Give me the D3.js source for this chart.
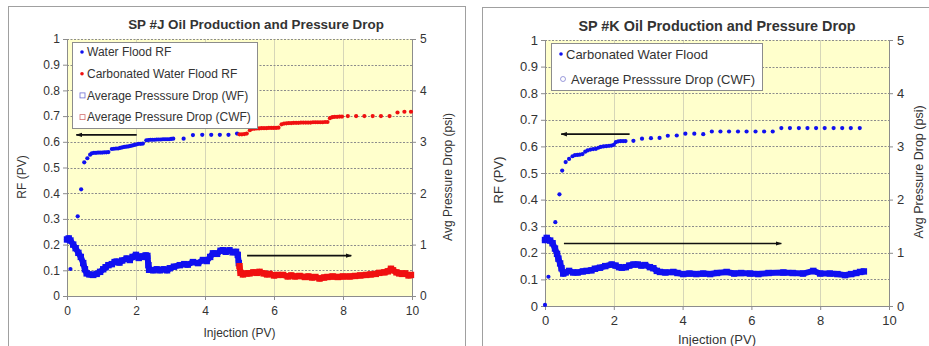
<!DOCTYPE html>
<html>
<head>
<meta charset="utf-8">
<script src="https://cdn.jsdelivr.net/npm/d3@7"></script>
<style>
  body { margin: 0; background: #fff; }
  text { font-family: "Liberation Sans", Arial, sans-serif; fill: #333; }
</style>
</head>
<body>
<svg id="chart" width="929" height="346"></svg>
<script>
// ---- data ----
var xTicks = [0, 2, 4, 6, 8, 10];
var rfTicks = [0, 0.1, 0.2, 0.3, 0.4, 0.5, 0.6, 0.7, 0.8, 0.9, 1];
var psiTicks = [0, 1, 2, 3, 4, 5];

// SP #J : [injection PV, RF]
var jWaterFloodRF = [[0.1,0.105],[0.31,0.31],[0.41,0.415],[0.5,0.52],[0.59,0.536],[0.67,0.55],[0.72,0.555],[0.78,0.557],[0.84,0.557],[0.9,0.558],[0.96,0.558],[1.02,0.558],[1.08,0.559],[1.14,0.559],[1.2,0.56],[1.3,0.572],[1.36,0.573],[1.42,0.574],[1.48,0.574],[1.54,0.576],[1.6,0.578],[1.66,0.58],[1.72,0.581],[1.78,0.582],[1.84,0.584],[1.9,0.586],[1.96,0.588],[2.02,0.59],[2.08,0.592],[2.14,0.592],[2.2,0.593],[2.3,0.606],[2.36,0.607],[2.42,0.608],[2.48,0.608],[2.54,0.608],[2.6,0.609],[2.66,0.609],[2.72,0.609],[2.78,0.61],[2.84,0.61],[2.9,0.61],[2.96,0.61],[3.02,0.611],[3.08,0.612],[3.38,0.612],[3.65,0.626],[3.92,0.627],[4.18,0.627],[4.43,0.627],[4.68,0.627],[4.93,0.632]];
var jCarbonatedRF = [[5.0,0.629],[5.07,0.629],[5.14,0.63],[5.21,0.632],[5.3,0.645],[5.36,0.65],[5.43,0.651],[5.5,0.652],[5.57,0.652],[5.64,0.653],[5.71,0.653],[5.78,0.653],[5.85,0.654],[5.92,0.654],[5.99,0.654],[6.06,0.654],[6.13,0.655],[6.22,0.668],[6.29,0.671],[6.36,0.672],[6.43,0.673],[6.5,0.673],[6.57,0.674],[6.64,0.674],[6.71,0.674],[6.78,0.675],[6.85,0.675],[6.92,0.675],[6.99,0.675],[7.06,0.675],[7.13,0.676],[7.2,0.676],[7.27,0.676],[7.34,0.676],[7.41,0.676],[7.48,0.677],[7.55,0.677],[7.62,0.692],[7.69,0.696],[7.76,0.697],[7.83,0.697],[7.9,0.698],[7.97,0.698],[8.14,0.7],[8.38,0.7],[8.62,0.7],[8.86,0.7],[9.1,0.7],[9.35,0.7],[9.58,0.714],[9.78,0.717],[9.97,0.717]];
// [injection PV, psi]
var jWaterFloodDP = [[0,1.1],[0.05,1.12],[0.1,1.08],[0.18,1.0],[0.25,0.93],[0.33,0.84],[0.4,0.76],[0.47,0.64],[0.52,0.52],[0.57,0.44],[0.65,0.42],[0.76,0.41],[0.86,0.43],[0.96,0.47],[1.05,0.52],[1.12,0.56],[1.2,0.6],[1.3,0.62],[1.38,0.66],[1.44,0.67],[1.52,0.65],[1.6,0.69],[1.73,0.73],[1.82,0.7],[1.9,0.76],[2.0,0.8],[2.08,0.74],[2.14,0.77],[2.2,0.76],[2.28,0.79],[2.33,0.78],[2.36,0.6],[2.38,0.51],[2.5,0.5],[2.6,0.52],[2.69,0.5],[2.8,0.52],[2.9,0.5],[2.98,0.54],[3.1,0.57],[3.27,0.6],[3.4,0.62],[3.5,0.61],[3.65,0.66],[3.8,0.64],[3.94,0.7],[4.05,0.68],[4.15,0.76],[4.23,0.83],[4.35,0.82],[4.45,0.88],[4.52,0.89],[4.6,0.86],[4.71,0.89],[4.8,0.85],[4.9,0.86],[4.95,0.8],[4.98,0.64]];
var jCarbonatedDP = [[5.0,0.58],[5.03,0.45],[5.1,0.42],[5.2,0.44],[5.29,0.44],[5.4,0.46],[5.5,0.45],[5.58,0.47],[5.7,0.44],[5.8,0.42],[5.87,0.43],[6.0,0.40],[6.1,0.41],[6.26,0.41],[6.4,0.38],[6.5,0.40],[6.6,0.38],[6.74,0.39],[6.9,0.37],[7.0,0.38],[7.1,0.36],[7.2,0.37],[7.32,0.34],[7.45,0.36],[7.55,0.37],[7.7,0.38],[7.85,0.37],[8.0,0.38],[8.19,0.38],[8.35,0.39],[8.5,0.40],[8.67,0.41],[8.8,0.42],[8.95,0.43],[9.05,0.45],[9.2,0.46],[9.3,0.48],[9.39,0.53],[9.45,0.5],[9.55,0.46],[9.63,0.44],[9.72,0.43],[9.8,0.44],[9.9,0.40],[9.97,0.41]];
// arrows [x1, rf1, x2, rf2], head at the second end
var jArrows = [[2.02,0.627,0.27,0.627],[5.22,0.157,8.24,0.157]];

// SP #K
var kCarbonatedRF = [[0,0.004],[0.1,0.11],[0.3,0.315],[0.42,0.42],[0.5,0.509],[0.6,0.541],[0.7,0.553],[0.8,0.563],[0.87,0.567],[0.94,0.568],[1.01,0.569],[1.09,0.571],[1.17,0.58],[1.24,0.585],[1.32,0.588],[1.4,0.59],[1.48,0.591],[1.55,0.595],[1.62,0.598],[1.7,0.6],[1.78,0.601],[1.86,0.602],[1.93,0.603],[2.0,0.606],[2.06,0.616],[2.13,0.619],[2.2,0.62],[2.27,0.62],[2.34,0.62],[2.57,0.621],[2.82,0.629],[3.08,0.631],[3.33,0.632],[3.57,0.64],[3.83,0.641],[4.08,0.648],[4.34,0.648],[4.6,0.646],[4.85,0.656],[5.1,0.656],[5.35,0.656],[5.61,0.656],[5.86,0.656],[6.12,0.656],[6.37,0.656],[6.62,0.656],[6.87,0.669],[7.12,0.669],[7.38,0.669],[7.63,0.669],[7.88,0.669],[8.13,0.669],[8.39,0.669],[8.64,0.669],[8.89,0.669],[9.15,0.669]];
var kCarbonatedDP = [[0,1.24],[0.05,1.28],[0.15,1.23],[0.22,1.18],[0.29,1.08],[0.35,0.98],[0.39,0.89],[0.44,0.8],[0.48,0.71],[0.53,0.61],[0.6,0.63],[0.7,0.66],[0.82,0.63],[0.95,0.63],[1.1,0.65],[1.21,0.66],[1.35,0.67],[1.45,0.7],[1.6,0.72],[1.75,0.75],[1.94,0.78],[2.05,0.76],[2.15,0.73],[2.23,0.72],[2.35,0.73],[2.45,0.76],[2.57,0.78],[2.7,0.78],[2.8,0.76],[2.91,0.77],[3.05,0.73],[3.15,0.71],[3.25,0.66],[3.34,0.64],[3.5,0.63],[3.73,0.64],[3.85,0.62],[4.02,0.6],[4.2,0.61],[4.4,0.6],[4.6,0.61],[4.8,0.6],[5.0,0.62],[5.28,0.64],[5.5,0.61],[5.7,0.62],[5.96,0.61],[6.2,0.6],[6.5,0.62],[6.93,0.63],[7.2,0.62],[7.5,0.61],[7.8,0.66],[8.0,0.61],[8.28,0.61],[8.5,0.6],[8.72,0.58],[8.9,0.6],[9.05,0.62],[9.16,0.64],[9.27,0.65]];
var kArrows = [[2.46,0.646,0.47,0.646],[0.55,0.235,6.87,0.235]];

var BLUE = "#1010f0", RED = "#f01010";

var svg = d3.select("#chart");

svg.append("defs").append("marker")
  .attr("id", "head")
  .attr("viewBox", "0 0 10 10")
  .attr("refX", 9).attr("refY", 5)
  .attr("markerWidth", 4).attr("markerHeight", 4)
  .attr("orient", "auto")
  .append("path").attr("d", "M0,1.5L10,5L0,8.5Z").attr("fill", "#111");

function drawChart(o) {
  // panel frame
  svg.append("rect")
    .attr("x", o.frame[0] + 0.5).attr("y", o.frame[1] + 0.5)
    .attr("width", o.frame[2]).attr("height", o.frame[3])
    .attr("fill", "#fff").attr("stroke", "#a0a0a0");

  var x = d3.scaleLinear().domain([0, 10]).range([o.left, o.right]);
  var yRF = d3.scaleLinear().domain([0, 1]).range([o.bottom, o.top]);
  var yP = d3.scaleLinear().domain([0, 5]).range([o.bottom, o.top]);

  var g = svg.append("g");

  g.append("rect")
    .attr("x", o.left).attr("y", o.top)
    .attr("width", o.right - o.left).attr("height", o.bottom - o.top)
    .attr("fill", "#ffffcc");

  // vertical grid
  g.selectAll(".vg").data(xTicks.slice(1, -1)).enter().append("line")
    .attr("x1", function(d) { return Math.round(x(d)) + 0.5; })
    .attr("x2", function(d) { return Math.round(x(d)) + 0.5; })
    .attr("y1", o.top).attr("y2", o.bottom)
    .attr("stroke", "#d6d6b8");
  // horizontal grid
  g.selectAll(".hg").data(rfTicks.slice(1)).enter().append("line")
    .attr("x1", o.left).attr("x2", o.right)
    .attr("y1", function(d) { return Math.round(yRF(d)) + 0.5; })
    .attr("y2", function(d) { return Math.round(yRF(d)) + 0.5; })
    .attr("stroke", "#8c8c8c").attr("stroke-dasharray", "2,1.5");

  var fs = o.fs;

  var axL = g.append("g").attr("transform", "translate(" + o.left + ",0)")
    .call(d3.axisLeft(yRF).tickValues(rfTicks).tickSize(4).tickPadding(3)
      .tickFormat(function(d) { return d3.format("")(+d.toFixed(1)); }));
  var axR = g.append("g").attr("transform", "translate(" + o.right + ",0)")
    .call(d3.axisRight(yP).tickValues(psiTicks).tickSize(4).tickPadding(4)
      .tickFormat(d3.format("d")));
  var axB = g.append("g").attr("transform", "translate(0," + o.bottom + ")")
    .call(d3.axisBottom(x).tickValues(xTicks).tickSize(4).tickPadding(6)
      .tickFormat(d3.format("d")));
  [axL, axR, axB].forEach(function(a) {
    a.select(".domain").attr("stroke", "#8c8c8c");
    a.selectAll(".tick line").attr("stroke", "#8c8c8c");
    a.selectAll("text").attr("font-size", fs).attr("fill", "#3a3a3a")
      .attr("font-family", "Liberation Sans, Arial, sans-serif");
  });

  var line = d3.line().x(function(d) { return x(d[0]); }).y(function(d) { return yP(d[1]); });

  // pressure series: dense square markers
  o.pressure.forEach(function(s) {
    g.append("path").datum(s.data)
      .attr("d", line)
      .attr("fill", "none").attr("stroke", s.color)
      .attr("stroke-width", 6).attr("stroke-linejoin", "round").attr("stroke-linecap", "round");
    g.selectAll(null).data(s.data).enter().append("rect")
      .attr("x", function(d) { return x(d[0]) - 3.2; })
      .attr("y", function(d) { return yP(d[1]) - 3.2; })
      .attr("width", 6.4).attr("height", 6.4)
      .attr("fill", s.color);
  });

  // RF series: small dots
  o.rf.forEach(function(s) {
    g.selectAll(null).data(s.data).enter().append("circle")
      .attr("cx", function(d) { return x(d[0]); })
      .attr("cy", function(d) { return yRF(d[1]); })
      .attr("r", 2.1).attr("fill", s.color);
  });

  // arrows
  g.selectAll(".arrow").data(o.arrows).enter().append("line")
    .attr("x1", function(d) { return x(d[0]); })
    .attr("y1", function(d) { return yRF(d[1]); })
    .attr("x2", function(d) { return x(d[2]); })
    .attr("y2", function(d) { return yRF(d[3]); })
    .attr("stroke", "#111").attr("stroke-width", 1.6)
    .attr("marker-end", "url(#head)");

  // titles
  svg.append("text").attr("x", o.titleX).attr("y", o.titleY)
    .attr("text-anchor", "middle").attr("font-weight", "bold")
    .attr("font-size", o.titleFs).attr("fill", "#222").text(o.title);
  svg.append("text").attr("x", (o.left + o.right) / 2).attr("y", o.xLabelY)
    .attr("text-anchor", "middle").attr("font-size", fs).attr("fill", "#3a3a3a")
    .text("Injection (PV)");
  svg.append("text")
    .attr("transform", "translate(" + o.yLabelX + "," + o.yLabelY + ") rotate(-90)")
    .attr("text-anchor", "middle").attr("font-size", fs).attr("fill", "#3a3a3a")
    .text("RF (PV)");
  svg.append("text")
    .attr("transform", "translate(" + o.y2LabelX + "," + o.y2LabelY + ") rotate(-90)")
    .attr("text-anchor", "middle").attr("font-size", o.y2Fs || fs).attr("fill", "#3a3a3a")
    .text("Avg Pressure Drop (psi)");

  // legend
  var lg = svg.append("g").attr("transform", "translate(" + o.legend.x + "," + o.legend.y + ")");
  lg.append("rect").attr("x", 0.5).attr("y", 0.5)
    .attr("width", o.legend.w).attr("height", o.legend.h)
    .attr("fill", "#fff").attr("stroke", "#8c8c8c");
  o.legend.items.forEach(function(it, i) {
    var cy = o.legend.first + i * o.legend.step;
    if (it.shape === "dot") {
      lg.append("circle").attr("cx", 10).attr("cy", cy).attr("r", 1.8).attr("fill", it.color);
    } else if (it.shape === "square") {
      lg.append("rect").attr("x", 8).attr("y", cy - 2.5).attr("width", 5).attr("height", 5)
        .attr("fill", "none").attr("stroke", it.color).attr("stroke-width", 0.8).attr("opacity", 0.7);
    } else {
      lg.append("circle").attr("cx", 12).attr("cy", cy).attr("r", 2.5)
        .attr("fill", "none").attr("stroke", it.color).attr("stroke-width", 0.8).attr("opacity", 0.7);
    }
    lg.append("text").attr("x", it.shape === "ring" ? 20 : 15).attr("y", cy + fs * 0.36)
      .attr("font-size", fs).attr("fill", "#333").text(it.label);
  });
}

drawChart({
  frame: [8, 6, 457, 360],
  left: 67, right: 412, top: 39, bottom: 296, fs: 12,
  title: "SP #J Oil Production and Pressure Drop", titleX: 256, titleY: 29, titleFs: 13.4,
  xLabelY: 337, yLabelX: 26, yLabelY: 177, y2LabelX: 452, y2LabelY: 177,
  rf: [{ data: jWaterFloodRF, color: BLUE }, { data: jCarbonatedRF, color: RED }],
  pressure: [{ data: jWaterFloodDP, color: BLUE }, { data: jCarbonatedDP, color: RED }],
  arrows: jArrows,
  legend: { x: 72, y: 42, w: 185, h: 86, first: 10, step: 21.7, items: [
    { shape: "dot", color: BLUE, label: "Water Flood RF" },
    { shape: "dot", color: RED, label: "Carbonated Water Flood RF" },
    { shape: "square", color: "#3030c0", label: "Average Presssure Drop (WF)" },
    { shape: "square", color: "#c03030", label: "Average Pressure Drop (CWF)" }
  ] }
});

drawChart({
  frame: [482, 7, 500, 360],
  left: 545, right: 889, top: 40, bottom: 306, fs: 13,
  title: "SP #K Oil Production and Pressure Drop", titleX: 717, titleY: 31, titleFs: 14.4,
  xLabelY: 344, yLabelX: 503, yLabelY: 180, y2LabelX: 923, y2LabelY: 172, y2Fs: 12.5,
  rf: [{ data: kCarbonatedRF, color: BLUE }],
  pressure: [{ data: kCarbonatedDP, color: BLUE }],
  arrows: kArrows,
  legend: { x: 551, y: 43, w: 211, h: 47, first: 11, step: 25, items: [
    { shape: "dot", color: BLUE, label: "Carbonated Water Flood" },
    { shape: "ring", color: "#5050c0", label: "Average Presssure Drop (CWF)" }
  ] }
});
</script>
</body>
</html>
